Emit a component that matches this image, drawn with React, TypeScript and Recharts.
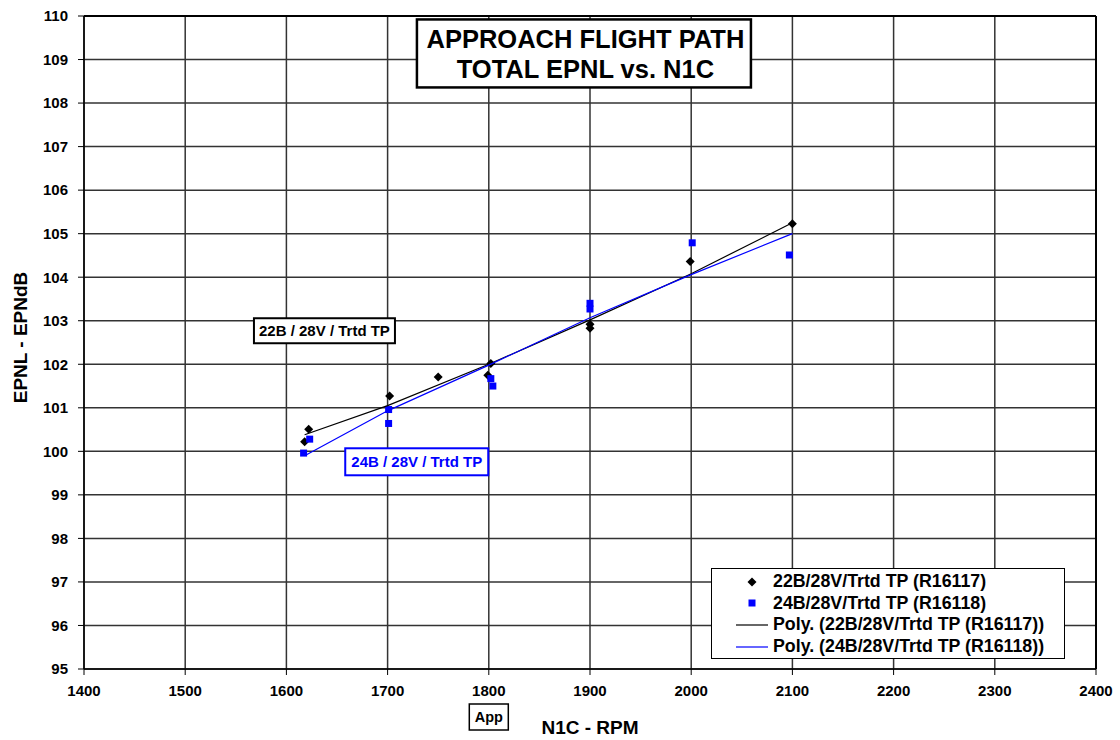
import { ScatterChart, Scatter, XAxis, YAxis, CartesianGrid, Legend, ReferenceDot, ReferenceLine, Label } from "recharts";

const FONT = "'Liberation Sans', Arial, sans-serif";

// axis ticks
const rpmTicks = [1400, 1500, 1600, 1700, 1800, 1900, 2000, 2100, 2200, 2300, 2400];
const epnlTicks = [95, 96, 97, 98, 99, 100, 101, 102, 103, 104, 105, 106, 107, 108, 109, 110];

// measured points, 22B/28V/Trtd TP (R16117)
const run22Rpm = [1618, 1622, 1702, 1750, 1799, 1802, 1900, 1900, 1999, 2100];
const run22Epnl = [100.22, 100.51, 101.27, 101.71, 101.75, 102.02, 102.92, 102.83, 104.36, 105.23];

// measured points, 24B/28V/Trtd TP (R16118)
const run24Rpm = [1617, 1623, 1701, 1701, 1802, 1804, 1900, 1900, 2001, 2097];
const run24Epnl = [99.96, 100.28, 100.96, 100.64, 101.67, 101.5, 103.4, 103.27, 104.79, 104.51];

// poly trend lines
const polyRpm = [1618, 1700, 1800, 1900, 2000, 2100];
const poly22Epnl = [100.38, 101.05, 102.0, 103.02, 104.08, 105.25];
const poly24Epnl = [99.9, 100.93, 101.98, 103.07, 104.06, 105.0];

const seriesNames = [
    "22B/28V/Trtd TP (R16117)",
    "24B/28V/Trtd TP (R16118)",
    "Poly. (22B/28V/Trtd TP (R16117))",
    "Poly. (24B/28V/Trtd TP (R16118))",
];
const titleLines = ["APPROACH FLIGHT PATH", "TOTAL EPNL vs. N1C"];

const BLUE = "#0000ff";

const zip = (xs: number[], ys: number[]) => xs.map((x, i) => ({ x: x, y: ys[i] }));

const Diamond = (p: any) => (
    <polygon
        points={`${p.cx},${p.cy - 4.5} ${p.cx + 4.5},${p.cy} ${p.cx},${p.cy + 4.5} ${p.cx - 4.5},${p.cy}`}
        fill="#000"
    />
);
const Square = (p: any) => <rect x={p.cx - 3.5} y={p.cy - 3.5} width={7} height={7} fill={BLUE} />;
const NoDot = () => <g />;

const boxText = (w: number, h: number, text: string, color: string, size: number, sw: number) => (p: any) => (
    <g>
        <rect x={p.cx - w / 2} y={p.cy - h / 2} width={w} height={h} fill="#fff" stroke={color} strokeWidth={sw} />
        <text x={p.cx} y={p.cy + size * 0.36} textAnchor="middle" fill={color}
            style={{ fontFamily: FONT, fontWeight: "bold", fontSize: size }}>{text}</text>
    </g>
);

const TitleBox = (p: any) => (
    <g>
        <rect x={p.cx - 167} y={p.cy - 34} width={334} height={68} fill="#fff" stroke="#000" strokeWidth={2.5} />
        {titleLines.map((t, i) => (
            <text key={i} x={p.cx + 1.5} y={p.cy - 5.9 + i * 30} textAnchor="middle" fill="#000"
                style={{ fontFamily: FONT, fontWeight: "bold", fontSize: 25.5 }}>{t}</text>
        ))}
    </g>
);

const AppBox = (p: any) => (
    <g>
        <rect x={p.cx - 19.5} y={p.cy + 35} width={39} height={26} fill="#fff" stroke="#000" strokeWidth={1.5} />
        <text x={p.cx} y={p.cy + 53} textAnchor="middle" fill="#000"
            style={{ fontFamily: FONT, fontWeight: "bold", fontSize: 14.5 }}>App</text>
    </g>
);

const YTitle = (props: any) => {
    const vb = props.viewBox;
    const cx = vb.x + 27;
    const cy = vb.y + vb.height / 2 - 5;
    return (
        <text x={cx} y={cy} transform={`rotate(-90, ${cx}, ${cy})`} textAnchor="middle" fill="#000"
            style={{ fontFamily: FONT, fontWeight: "bold", fontSize: 19 }}>EPNL - EPNdB</text>
    );
};

const XTitle = (props: any) => {
    const vb = props.viewBox;
    return (
        <text x={vb.x + vb.width / 2} y={vb.y + 65} textAnchor="middle" fill="#000"
            style={{ fontFamily: FONT, fontWeight: "bold", fontSize: 19 }}>N1C - RPM</text>
    );
};

const rowCenters = [12.5, 34, 55.5, 77.5];

const LegendBox = (props: any) => {
    const rows = props.payload || [];
    return (
        <div style={{
            width: 354, height: 91, boxSizing: "border-box", border: "1.5px solid #000", background: "#fff",
            position: "relative", fontFamily: FONT, fontWeight: "bold", fontSize: 17.8, color: "#000",
        }}>
            {rows.map((e: any, i: number) => (
                <div key={i} style={{ position: "absolute", left: 0, top: rowCenters[i] - 11, height: 22, display: "flex", alignItems: "center", whiteSpace: "nowrap" }}>
                    <svg width={60} height={22} style={{ display: "block" }}>
                        {e.type === "diamond" && <Diamond cx={40} cy={11} />}
                        {e.type === "square" && <Square cx={40} cy={11} />}
                        {e.type === "line" && <line x1={24} x2={56} y1={11} y2={11} stroke={e.color} strokeWidth={1.2} />}
                    </svg>
                    <span style={{ marginLeft: 1 }}>{e.value}</span>
                </div>
            ))}
        </div>
    );
};

export default function App() {
    const tickStyle = { fill: "#000", fontSize: 15, fontWeight: "bold", fontFamily: FONT };
    return (
        <div style={{ position: "absolute", left: 0, top: 0, width: 1120, height: 740, background: "#fff" }}>
            <ScatterChart width={1120} height={740} margin={{ top: 16, right: 24, left: 0, bottom: 3 }}>
                <CartesianGrid stroke="#333" strokeWidth={1.5} />
                <XAxis type="number" dataKey="x" domain={[1400, 2400]} ticks={rpmTicks} interval={0}
                    height={68} tickSize={6} tickMargin={10} allowDataOverflow
                    axisLine={{ stroke: "#000", strokeWidth: 1.5 }} tickLine={{ stroke: "#000" }} tick={tickStyle}>
                    <Label content={XTitle} />
                </XAxis>
                <YAxis type="number" dataKey="y" domain={[95, 110]} ticks={epnlTicks} interval={0}
                    width={84} tickSize={6} tickMargin={10} allowDataOverflow
                    axisLine={{ stroke: "#000", strokeWidth: 1.5 }} tickLine={{ stroke: "#000" }} tick={tickStyle}>
                    <Label content={YTitle} />
                </YAxis>
                <ReferenceLine y={110} stroke="#000" strokeWidth={2} />
                <ReferenceLine x={2400} stroke="#000" strokeWidth={2} />
                <Scatter name={seriesNames[0]} data={zip(run22Rpm, run22Epnl)} fill="#000" shape={Diamond}
                    legendType="diamond" isAnimationActive={false} />
                <Scatter name={seriesNames[1]} data={zip(run24Rpm, run24Epnl)} fill={BLUE} shape={Square}
                    legendType="square" isAnimationActive={false} />
                <Scatter name={seriesNames[2]} data={zip(polyRpm, poly22Epnl)} fill="#000" stroke="#000"
                    line={{ stroke: "#000", strokeWidth: 1.2 }} shape={NoDot} legendType="line" isAnimationActive={false} />
                <Scatter name={seriesNames[3]} data={zip(polyRpm, poly24Epnl)} fill={BLUE} stroke={BLUE}
                    line={{ stroke: BLUE, strokeWidth: 1.2 }} shape={NoDot} legendType="line" isAnimationActive={false} />
                <ReferenceDot x={1894} y={109.14} r={0} ifOverflow="visible" shape={TitleBox} />
                <ReferenceDot x={1637.6} y={102.77} r={0} ifOverflow="visible"
                    shape={boxText(141, 25, "22B / 28V / Trtd TP", "#000", 15, 2)} />
                <ReferenceDot x={1728.8} y={99.76} r={0} ifOverflow="visible"
                    shape={boxText(143, 27, "24B / 28V / Trtd TP", BLUE, 15, 2)} />
                <ReferenceDot x={1800} y={95} r={0} ifOverflow="visible" shape={AppBox} />
                <Legend layout="vertical" align="center" verticalAlign="middle" content={LegendBox}
                    wrapperStyle={{ left: 711, top: 568, width: 354, height: 91 }} />
            </ScatterChart>
        </div>
    );
}
